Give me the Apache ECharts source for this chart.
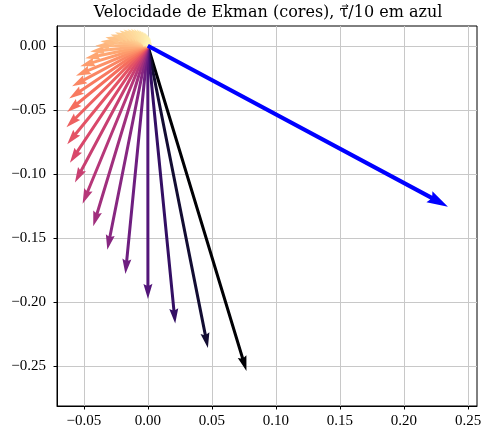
<!DOCTYPE html>
<html>
<head>
<meta charset="utf-8">
<script src="https://cdn.jsdelivr.net/npm/echarts@6/dist/echarts.min.js"></script>
<style>
  html, body { margin: 0; padding: 0; background: #fff; }
  #chart { width: 485px; height: 429px; }
</style>
</head>
<body>
<div id="chart"></div>
<script>
// Ekman velocity vectors (tips, arrows start at origin), surface first
var ekmanU = [0.0770, 0.0469, 0.0214, 0.0001, -0.0175, -0.0316, -0.0426, -0.0509, -0.0569, -0.0608,
  -0.0629, -0.0635, -0.0630, -0.0614, -0.0591, -0.0561, -0.0527, -0.0489, -0.0450, -0.0410,
  -0.0370, -0.0331, -0.0292, -0.0256, -0.0221, -0.0190, -0.0159, -0.0132, -0.0108, -0.0086,
  -0.0066, -0.0048, -0.0033, -0.0020, -0.0009, 0.0000, 0.0008, 0.0014, 0.0019, 0.0022, 0.0024]
var ekmanV = [-0.2535, -0.2355, -0.2165, -0.1973, -0.1779, -0.1590, -0.1406, -0.1231, -0.1065, -0.0911,
  -0.0767, -0.0636, -0.0517, -0.0411, -0.0316, -0.0233, -0.0160, -0.0098, -0.0045, 0.0000,
  0.0036, 0.0066, 0.0088, 0.0106, 0.0118, 0.0127, 0.0131, 0.0132, 0.0131, 0.0128,
  0.0123, 0.0116, 0.0109, 0.0102, 0.0094, 0.0085, 0.0077, 0.0069, 0.0061, 0.0053, 0.0046]
// tensao do vento / 10 (azul)
var tauU = [0.2343]
var tauV = [-0.1254]

var xTicks = [-0.05, 0.00, 0.05, 0.10, 0.15, 0.20, 0.25]
var yTicks = [0.00, -0.05, -0.10, -0.15, -0.20, -0.25]

// magma colormap (matplotlib)
var magma = ['#000004', '#140e36', '#3b0f70', '#641a80', '#8c2981', '#b73779',
  '#de4968', '#f7705c', '#fe9f6d', '#fecf92', '#fcfdbf']

var ekmanData = ekmanU.map(function (u, i) {
  return [u, ekmanV[i], Math.sqrt(u * u + ekmanV[i] * ekmanV[i])]
})
var tauData = tauU.map(function (u, i) { return [u, tauV[i]] })
var vmax = ekmanData[0][2]

// forma da seta como no quiver do matplotlib
function arrowPoints (x0, y0, x1, y1, w, hw, hl, hal) {
  var dx = x1 - x0
  var dy = y1 - y0
  var L = Math.sqrt(dx * dx + dy * dy)
  if (L < 0.01) return null
  var s = L < hl ? L / hl : 1
  w *= s; hw *= s; hl *= s; hal *= s
  var ux = dx / L
  var uy = dy / L
  var px = -uy
  var py = ux
  var pts = [[0, -w / 2], [L - hal, -w / 2], [L - hl, -hw / 2], [L, 0],
    [L - hl, hw / 2], [L - hal, w / 2], [0, w / 2]]
  return pts.map(function (p) {
    return [x0 + ux * p[0] + px * p[1], y0 + uy * p[0] + py * p[1]]
  })
}

function makeRender (w, hw, hl, hal) {
  return function (params, api) {
    var o = api.coord([0, 0])
    var t = api.coord([api.value(0), api.value(1)])
    var pts = arrowPoints(o[0], o[1], t[0], t[1], w, hw, hl, hal)
    if (!pts) return null
    return {
      type: 'polygon',
      shape: { points: pts },
      style: { fill: api.visual('color'), stroke: null }
    }
  }
}

var serif = "'Liberation Serif', 'DejaVu Serif', serif"
var titleFont = "16px 'DejaVu Serif', serif"
var fmt = function (v) {
  var s = Math.abs(v).toFixed(2)
  return (v < -1e-9 ? '\u2212' : '') + s
}

// titulo em tres partes, com a seta desenhada sobre o tau
var titleParts = ['Velocidade de Ekman (cores), ', '\u03c4', '/10 em azul']
var ctx = document.createElement('canvas').getContext('2d')
ctx.font = titleFont
var widths = titleParts.map(function (s) { return ctx.measureText(s).width })
var titleX = 268 - (widths[0] + widths[1] + widths[2]) / 2
var titleY = 13
var titleGraphic = []
var cx = titleX
titleParts.forEach(function (s, i) {
  titleGraphic.push({
    type: 'text', x: cx, y: titleY,
    style: { text: s, font: titleFont, fill: '#000', textAlign: 'left', textVerticalAlign: 'middle' }
  })
  cx += widths[i]
})
var tauMid = titleX + widths[0] + widths[1] / 2 + 1
titleGraphic.push({
  type: 'line', shape: { x1: tauMid - 3, y1: 6, x2: tauMid + 3, y2: 6 },
  style: { stroke: '#000', lineWidth: 0.8 }
})
titleGraphic.push({
  type: 'polyline', shape: { points: [[tauMid + 1, 4.3], [tauMid + 3.2, 6], [tauMid + 1, 7.7]] },
  style: { stroke: '#000', lineWidth: 0.8, fill: null }
})

var myChart = echarts.init(document.getElementById('chart'))
var option = {
  animation: false,
  backgroundColor: '#fff',
  graphic: titleGraphic,
  grid: {
    left: 57,
    right: 8,
    top: 26,
    bottom: 22,
    show: true,
    borderColor: '#000',
    borderWidth: 1
  },
  xAxis: {
    type: 'value',
    min: -0.0709,
    max: 0.2570,
    axisLine: { show: true, onZero: false, lineStyle: { color: '#000', width: 1 } },
    axisTick: { show: true, length: 3.5, customValues: xTicks, lineStyle: { color: '#000' } },
    axisLabel: { customValues: xTicks, formatter: fmt, color: '#000', fontFamily: serif, fontSize: 15, margin: 8 },
    splitLine: { show: true, lineStyle: { color: '#c8c8c8', width: 1 } }
  },
  yAxis: {
    type: 'value',
    min: -0.2808,
    max: 0.0154,
    axisLine: { show: true, onZero: false, lineStyle: { color: '#000', width: 1 } },
    axisTick: { show: true, length: 3.5, customValues: yTicks, lineStyle: { color: '#000' } },
    axisLabel: { customValues: yTicks, formatter: fmt, color: '#000', fontFamily: serif, fontSize: 15, margin: 11 },
    splitLine: { show: true, lineStyle: { color: '#c8c8c8', width: 1 } }
  },
  visualMap: {
    show: false,
    type: 'continuous',
    seriesIndex: 0,
    dimension: 2,
    min: 0,
    max: vmax,
    inRange: { color: magma.slice().reverse() }
  },
  series: [
    {
      name: 'Ekman',
      type: 'custom',
      coordinateSystem: 'cartesian2d',
      encode: { x: 0, y: 1 },
      renderItem: makeRender(3, 9, 15, 13.5),
      data: ekmanData,
      z: 2
    },
    {
      name: 'tau',
      type: 'custom',
      coordinateSystem: 'cartesian2d',
      encode: { x: 0, y: 1 },
      renderItem: makeRender(4.2, 12.6, 21, 18.9),
      itemStyle: { color: '#0000ff' },
      data: tauData,
      z: 3
    }
  ]
}
myChart.setOption(option)
</script>
</body>
</html>
